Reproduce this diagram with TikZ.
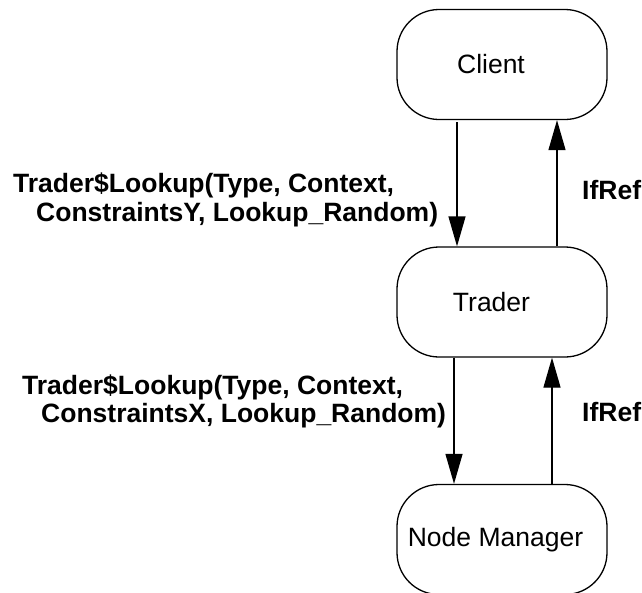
\documentclass[tikz,border=0pt]{standalone}
\usepackage{fontspec}
\setmainfont{Liberation Sans}
\usetikzlibrary{arrows.meta}
\begin{document}
\begin{tikzpicture}[x=1pt,y=-1pt,
  proc/.style={draw,line width=1.3pt,rounded corners=42pt,minimum width=210pt,minimum height=110pt,inner sep=0pt,font=\fontsize{26.5}{29}\selectfont},
  arr/.style={line width=1.3pt,-{Triangle[length=30pt,width=17pt]}},
  lbl/.style={inner sep=0pt,anchor=base west,font=\fontsize{26.5}{29}\selectfont\bfseries}]
\useasboundingbox (0,0) rectangle (642,592);
\node[proc] (client) at (502,64.5) {\hspace*{-22pt}Client};
\node[proc] (trader) at (502,302) {\hspace*{-21pt}Trader};
\node[proc] (nm) at (502,539.5) {\hspace*{-13pt}Node Manager};
\draw[arr] ([xshift=-45pt,yshift=-2pt]client.south) -- ([xshift=-45pt]trader.north);
\draw[arr] ([xshift=55pt]trader.north) -- ([xshift=55pt]client.south);
\draw[arr] ([xshift=-48pt]trader.south) -- ([xshift=-48pt]nm.north);
\draw[arr] ([xshift=50pt]nm.north) -- ([xshift=50pt]trader.south);
\node[lbl] (l1a) at (13,192.5) {Trader\$Lookup(Type, Context,};
\node[lbl] (l1b) at (36,221.5) {ConstraintsY, Lookup\_Random)};
\node[lbl] (l2a) at (22,394.5) {Trader\$Lookup(Type, Context,};
\node[lbl] (l2b) at (41,422.5) {ConstraintsX, Lookup\_Random)};
\node[lbl] (r1) at (582,199.5) {IfRef};
\node[lbl] (r2) at (582,421.5) {IfRef};
\end{tikzpicture}
\end{document}
